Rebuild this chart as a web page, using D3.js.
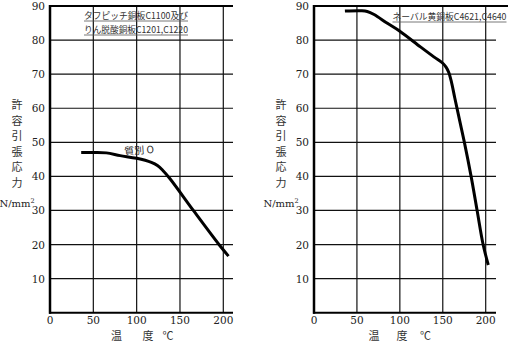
<!DOCTYPE html>
<html><head><meta charset="utf-8">
<script src="https://cdn.jsdelivr.net/npm/d3@7"></script>
<style>
html,body{margin:0;padding:0;background:#fff;}
svg{display:block;}
</style></head>
<body>
<svg id="c" width="508" height="343"></svg>
<script>
// Data
const xTicks = [0, 50, 100, 150, 200];
const yTicks = [10, 20, 30, 40, 50, 60, 70, 80, 90];
const yLabelChars = ["許","容","引","張","応","力"];
const unitLabel = "N/mm";
const xAxisLabel = ["温", "度", "℃"];

const leftTitle = ["タフピッチ銅板C1100及び", "りん脱酸銅板C1201,C1220"];
const leftTemp = [36, 50, 65, 81, 100, 117, 124, 130, 138.5, 165.4, 195, 206];
const leftStress = [47, 47, 46.9, 46.1, 45.3, 44.1, 43.2, 41.8, 39.3, 30, 20, 16.6];
const leftNote = "質別 O";

const rightTitle = ["ネーバル黄銅板C4621,C4640"];
const rightTemp = [36, 55, 62, 70, 85, 100, 124, 140, 150, 154, 157, 160, 164, 170, 175, 183, 190, 197, 203];
const rightStress = [88.5, 88.6, 88.4, 87.5, 85, 82.6, 78, 75, 73.2, 72, 70.5, 67.8, 63, 56, 50.2, 40, 30, 20, 14];

const svg = d3.select("#c");
const SERIF = "'DejaVu Serif', 'Liberation Serif', serif";
const CJK = "'Noto Sans CJK JP', sans-serif";

function panel(o) {
  const g = svg.append("g");
  const x = d3.scaleLinear().domain([0, 200]).range([o.x0, o.x200]);
  const y = d3.scaleLinear().domain([0, 90]).range([312.7, 6]);
  const xEnd = o.xEnd;
  g.selectAll(".hg").data(yTicks.filter(d => d < 90)).enter().append("line")
    .attr("x1", x(0)).attr("x2", xEnd).attr("y1", d => y(d)).attr("y2", d => y(d))
    .attr("stroke", "#111").attr("stroke-width", 1.2);
  g.selectAll(".vg").data(xTicks.filter(d => d > 0)).enter().append("line")
    .attr("x1", d => x(d)).attr("x2", d => x(d)).attr("y1", y(0)).attr("y2", y(90))
    .attr("stroke", "#111").attr("stroke-width", 1.2);
  g.append("line").attr("x1", x(0)).attr("x2", o.topEnd).attr("y1", y(90)).attr("y2", y(90))
    .attr("stroke", "#000").attr("stroke-width", 2);
  g.append("line").attr("x1", x(0) - 1).attr("x2", xEnd).attr("y1", y(0)).attr("y2", y(0))
    .attr("stroke", "#000").attr("stroke-width", 2);
  g.append("line").attr("x1", x(0)).attr("x2", x(0)).attr("y1", y(0) + 1).attr("y2", y(90) - 1)
    .attr("stroke", "#000").attr("stroke-width", 2.5);

  g.selectAll(".yl").data(yTicks).enter().append("text")
    .style("font-family", SERIF)
    .attr("x", x(0) - 5).attr("y", d => y(d) + 4).attr("text-anchor", "end")
    .attr("font-size", 10.5).attr("fill", "#222").text(d => d);
  g.selectAll(".xl").data(xTicks).enter().append("text")
    .style("font-family", SERIF)
    .attr("x", d => x(d)).attr("y", 324).attr("text-anchor", "middle")
    .attr("font-size", 10.5).attr("fill", "#222").text(d => d);

  g.selectAll(".yc").data(yLabelChars).enter().append("text").style("font-family", CJK)
    .attr("x", o.ylabX).attr("y", (d, i) => 109 + i * 15.6).attr("text-anchor", "middle")
    .attr("font-size", 11).attr("fill", "#333").text(d => d);
  const u = g.append("text").style("font-family", SERIF).attr("x", o.ylabX).attr("y", 207).attr("text-anchor", "middle")
    .attr("font-size", 10).attr("fill", "#222");
  u.append("tspan").text(unitLabel);
  u.append("tspan").attr("dy", -4).attr("font-size", 6.5).text("2");

  o.xlab.forEach((px, i) => {
    g.append("text").style("font-family", CJK).attr("x", px).attr("y", 340).attr("text-anchor", "middle")
      .attr("font-size", 11).attr("fill", "#333").text(xAxisLabel[i]);
  });

  o.title.forEach((t, i) => {
    const ty = o.titleY + i * 14;
    g.append("text").style("font-family", CJK).attr("x", o.titleX).attr("y", ty).attr("text-anchor", "start")
      .attr("font-size", 9).attr("fill", "#333")
      .attr("textLength", o.titleW).attr("lengthAdjust", "spacingAndGlyphs").text(t);
    g.append("line").attr("x1", o.titleX).attr("x2", o.titleX + o.titleW)
      .attr("y1", ty + 2.5).attr("y2", ty + 2.5).attr("stroke", "#555").attr("stroke-width", 0.8);
  });

  const data = o.xs.map((t, i) => [t, o.ys[i]]);
  g.append("path").datum(data)
    .attr("d", d3.line().x(d => x(d[0])).y(d => y(d[1])).curve(d3.curveCatmullRom.alpha(0.5)))
    .attr("fill", "none").attr("stroke", "#000").attr("stroke-width", 3).attr("stroke-linejoin", "round");
  return {g, x, y};
}

const L = panel({x0: 50, x200: 223.3, xEnd: 233, topEnd: 233, ylabX: 17, xlab: [116.5, 148, 168],
  title: leftTitle, titleX: 84, titleY: 18.5, titleW: 104, xs: leftTemp, ys: leftStress});
L.g.append("text").style("font-family", CJK).attr("x", 139).attr("y", 154).attr("text-anchor", "middle")
  .attr("font-size", 10).attr("fill", "#222")
  .attr("transform", "rotate(-4,139,150)").text(leftNote);

const R = panel({x0: 314, x200: 485.7, xEnd: 496, topEnd: 508, ylabX: 281, xlab: [374, 402, 425.5],
  title: rightTitle, titleX: 392.5, titleY: 19.5, titleW: 114, xs: rightTemp, ys: rightStress});
</script>
</body></html>
